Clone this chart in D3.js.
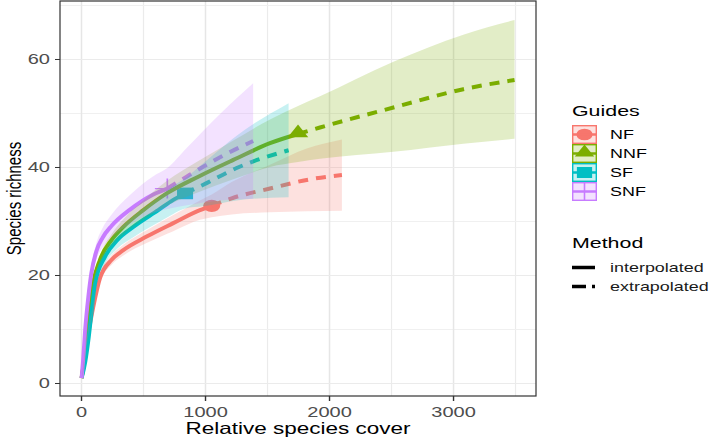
<!DOCTYPE html>
<html><head><meta charset="utf-8">
<script src="https://cdn.jsdelivr.net/npm/d3@7"></script>
<style>
body{margin:0;background:#fff}
svg{display:block}
text{font-family:"Liberation Sans",Arial,Helvetica,sans-serif}
</style>
</head><body>
<svg id="chart" width="709" height="438"></svg>
<script>
// ---------- data ----------
const groups  = ["NF", "NNF", "SF", "SNF"];
const colors  = ["#F8766D", "#7CAE00", "#00BFC4", "#C77CFF"];
const methods = ["interpolated", "extrapolated"];
const xTicks  = [0, 1000, 2000, 3000];
const yTicks  = [0, 20, 40, 60];
const xTitle  = "Relative species cover";
const yTitle  = "Species richness";
const legendTitles = ["Guides", "Method"];

// index of the observed (reference) sample in each series
const refIndex = [11, 13, 10, 10];

const nfCover = [1, 20, 40, 60, 95, 149, 243, 337, 525, 740, 955, 1050, 1211, 1520, 1816, 2100];
const nfRich  = [1, 4, 7.5, 10, 14.2, 19.5, 22.9, 24.7, 27.2, 29.7, 32.1, 32.9, 34.3, 36.1, 37.7, 38.6];
const nfLower = [1, 3.6, 7.0, 9.4, 13.5, 18.7, 22.0, 23.7, 26.0, 28.2, 30.3, 30.8, 31.3, 31.7, 31.9, 32.0];
const nfUpper = [1, 4.4, 8.0, 10.6, 14.9, 20.3, 23.8, 25.7, 28.4, 31.2, 33.9, 35.0, 37.3, 40.5, 43.5, 45.2];

const nnfCover = [1, 20, 36, 60, 93, 149, 243, 337, 498, 687, 942, 1224, 1520, 1746, 1923, 2515, 3079, 3492];
const nnfRich  = [1, 4, 8, 13, 18.5, 22.9, 26.6, 29, 32.1, 35.2, 38.3, 41.4, 44.5, 46.2, 47.4, 51.1, 54.5, 56.2];
const nnfLower = [1, 3.6, 7.5, 12.3, 17.7, 22.0, 25.5, 27.6, 30.3, 32.9, 35.4, 37.8, 40.1, 41.0, 41.6, 42.9, 44.4, 45.3];
const nnfUpper = [1, 4.4, 8.5, 13.7, 19.3, 23.8, 27.7, 30.4, 33.9, 37.5, 41.2, 45.0, 48.9, 51.4, 53.2, 59.6, 64.6, 67.3];

const sfCover = [1, 30, 55, 75, 109, 190, 290, 418, 619, 740, 835, 982, 1251, 1670];
const sfRich  = [1, 4, 8, 12, 18.5, 23.5, 26.6, 29, 32.1, 34, 35.2, 36.8, 39.9, 43.2];
const sfLower = [1, 3.6, 7.4, 11.2, 17.5, 22.2, 25.0, 27.1, 29.8, 31.4, 32.4, 32.8, 33.9, 34.5];
const sfUpper = [1, 4.4, 8.6, 12.8, 19.5, 24.8, 28.2, 30.9, 34.4, 36.6, 38.0, 40.8, 45.9, 51.9];

const snfCover = [1, 12, 30, 55, 80, 120, 170, 243, 391, 579, 692, 848, 1117, 1384];
const snfRich  = [1, 4, 10, 16, 20.5, 24.5, 27, 29.2, 32.2, 35, 36.1, 38.3, 41.9, 44.9];
const snfLower = [1, 3.6, 9.3, 15, 19.3, 23, 25.2, 27.1, 29.5, 31.6, 32.3, 33, 33.9, 34.2];
const snfUpper = [1, 4.4, 10.7, 17, 21.7, 26, 28.8, 31.3, 34.9, 38.4, 39.9, 43.6, 49.9, 55.6];

const coverArr = [nfCover, nnfCover, sfCover, snfCover];
const richArr  = [nfRich, nnfRich, sfRich, snfRich];
const lowerArr = [nfLower, nnfLower, sfLower, snfLower];
const upperArr = [nfUpper, nnfUpper, sfUpper, snfUpper];

// ---------- layout ----------
const SX = 1.38; // horizontal stretch of the reference image
const P = {left: 60, right: 536, top: 1, bottom: 396};
const svg = d3.select("#chart");

const x = d3.scaleLinear().domain([-173.4, 3665]).range([P.left, P.right]);
const y = d3.scaleLinear().domain([-2.315, 70.83]).range([P.bottom, P.top]);

function stretchedText(g, tx, ty, str, opts) {
  const t = g.append("text")
    .attr("transform", `translate(${tx},${ty}) scale(${SX},1)` + (opts.rotate ? ` rotate(${opts.rotate})` : ""))
    .attr("text-anchor", opts.anchor || "start")
    .attr("font-size", opts.size)
    .attr("fill", opts.fill || "#000")
    .text(str);
  return t;
}

// background panel
svg.append("rect").attr("x", P.left).attr("y", P.top)
  .attr("width", P.right - P.left).attr("height", P.bottom - P.top).attr("fill", "#fff");

// grid
const grid = svg.append("g");
const xMinor = [500, 1500, 2500, 3500];
const yMinor = [10, 30, 50, 70];
grid.selectAll(".xm").data(xMinor).join("line")
  .attr("x1", d => x(d)).attr("x2", d => x(d)).attr("y1", P.top).attr("y2", P.bottom)
  .attr("stroke", "#ebebeb").attr("stroke-width", 1.2);
grid.selectAll(".ym").data(yMinor).join("line")
  .attr("y1", d => y(d)).attr("y2", d => y(d)).attr("x1", P.left).attr("x2", P.right)
  .attr("stroke", "#f0f0f0").attr("stroke-width", 1);
grid.selectAll(".xM").data(xTicks).join("line")
  .attr("x1", d => x(d)).attr("x2", d => x(d)).attr("y1", P.top).attr("y2", P.bottom)
  .attr("stroke", "#e6e6e6").attr("stroke-width", 1.5);
grid.selectAll(".yM").data(yTicks).join("line")
  .attr("y1", d => y(d)).attr("y2", d => y(d)).attr("x1", P.left).attr("x2", P.right)
  .attr("stroke", "#ebebeb").attr("stroke-width", 1.1);

// series data objects
const series = groups.map((g, i) => {
  const pts = coverArr[i].map((c, j) => ({x: c, y: richArr[i][j], lo: lowerArr[i][j], hi: upperArr[i][j]}));
  return {name: g, color: colors[i], pts, ref: refIndex[i]};
});

const line = d3.line().x(d => x(d.x)).y(d => y(d.y)).curve(d3.curveMonotoneX);
const area = d3.area().x(d => x(d.x)).y0(d => y(d.lo)).y1(d => y(d.hi)).curve(d3.curveMonotoneX);

const plot = svg.append("g");

// marker drawing
function drawMarker(g, i, cx, cy, scale) {
  const s = scale || 1;
  const col = colors[i];
  const mg = g.append("g").attr("transform", `translate(${cx},${cy}) scale(${SX * s},${s})`);
  if (i === 0) {
    mg.append("path").attr("d", d3.symbol(d3.symbolCircle, 120)()).attr("fill", col);
  } else if (i === 1) {
    mg.append("path").attr("d", d3.symbol(d3.symbolTriangle, 95)()).attr("fill", col)
      .attr("transform", "translate(0,-1)");
  } else if (i === 2) {
    mg.append("path").attr("d", d3.symbol(d3.symbolSquare, 135)()).attr("fill", col);
  } else {
    mg.append("path").attr("d", "M-9,0H9M0,-10V10").attr("stroke", col)
      .attr("stroke-width", 1.2).attr("fill", "none");
  }
}

// points first (ggiNEXT order), then lines, then ribbons
series.forEach((s, i) => {
  const r = s.pts[s.ref];
  drawMarker(plot, i, x(r.x), y(r.y), 1);
});
series.forEach((s, i) => {
  plot.append("path").datum(s.pts.slice(0, s.ref + 1)).attr("d", line)
    .attr("fill", "none").attr("stroke", s.color).attr("stroke-width", 4)
    .attr("stroke-linejoin", "round");
  plot.append("path").datum(s.pts.slice(s.ref)).attr("d", line)
    .attr("fill", "none").attr("stroke", s.color).attr("stroke-width", 4)
    .attr("stroke-dasharray", "10,8");
});
series.forEach((s, i) => {
  plot.append("path").datum(s.pts).attr("d", area)
    .attr("fill", s.color).attr("fill-opacity", 0.22).attr("stroke", "none");
});

// panel border
svg.append("rect").attr("x", P.left).attr("y", P.top)
  .attr("width", P.right - P.left).attr("height", P.bottom - P.top)
  .attr("fill", "none").attr("stroke", "#333").attr("stroke-width", 1.2);

// axes ticks and labels
const axes = svg.append("g");
axes.selectAll(".xt").data(xTicks).join("line")
  .attr("x1", d => x(d)).attr("x2", d => x(d)).attr("y1", P.bottom).attr("y2", P.bottom + 5)
  .attr("stroke", "#333").attr("stroke-width", 1.4);
axes.selectAll(".yt").data(yTicks).join("line")
  .attr("y1", d => y(d)).attr("y2", d => y(d)).attr("x1", P.left - 5).attr("x2", P.left)
  .attr("stroke", "#333").attr("stroke-width", 1);
xTicks.forEach(d => stretchedText(axes, x(d), 417, d3.format("d")(d), {anchor: "middle", size: 14.5, fill: "#4d4d4d"}));
yTicks.forEach(d => stretchedText(axes, 50, y(d) + 5, d3.format("d")(d), {anchor: "end", size: 14.5, fill: "#4d4d4d"}));

stretchedText(axes, (P.left + P.right) / 2, 434, xTitle, {anchor: "middle", size: 16.3});
stretchedText(axes, 21, (P.top + P.bottom) / 2, yTitle, {anchor: "middle", size: 15, rotate: -90});

// legend: Guides
const leg = svg.append("g");
const LX = 572, KW = 25, KH = 19, KY = 125;
stretchedText(leg, LX, 116, legendTitles[0], {size: 15.5});
groups.forEach((g, i) => {
  const ky = KY + i * KH;
  leg.append("rect").attr("x", LX).attr("y", ky).attr("width", KW).attr("height", KH)
    .attr("fill", "#fff");
  drawMarker(leg, i, LX + KW / 2, ky + KH / 2, 0.95);
  leg.append("line").attr("x1", LX).attr("x2", LX + KW).attr("y1", ky + KH / 2).attr("y2", ky + KH / 2)
    .attr("stroke", colors[i]).attr("stroke-width", 2.5);
  leg.append("rect").attr("x", LX + 0.7).attr("y", ky + 0.7).attr("width", KW - 1.4).attr("height", KH - 1.4)
    .attr("fill", colors[i]).attr("fill-opacity", 0.22)
    .attr("stroke", colors[i]).attr("stroke-width", 1.4);
  stretchedText(leg, 610, ky + KH / 2 + 4.6, g, {size: 13});
});

// legend: Method
stretchedText(leg, LX, 248, legendTitles[1], {size: 15.5});
methods.forEach((m, i) => {
  const ly = 267.5 + i * 19;
  leg.append("line").attr("x1", LX).attr("x2", LX + 23).attr("y1", ly).attr("y2", ly)
    .attr("stroke", "#000").attr("stroke-width", 3.5)
    .attr("stroke-dasharray", i === 0 ? null : "14,6");
  stretchedText(leg, 610, ly + 4.8, m, {size: 13, fill: "#1a1a1a"});
});
</script>
</body></html>
